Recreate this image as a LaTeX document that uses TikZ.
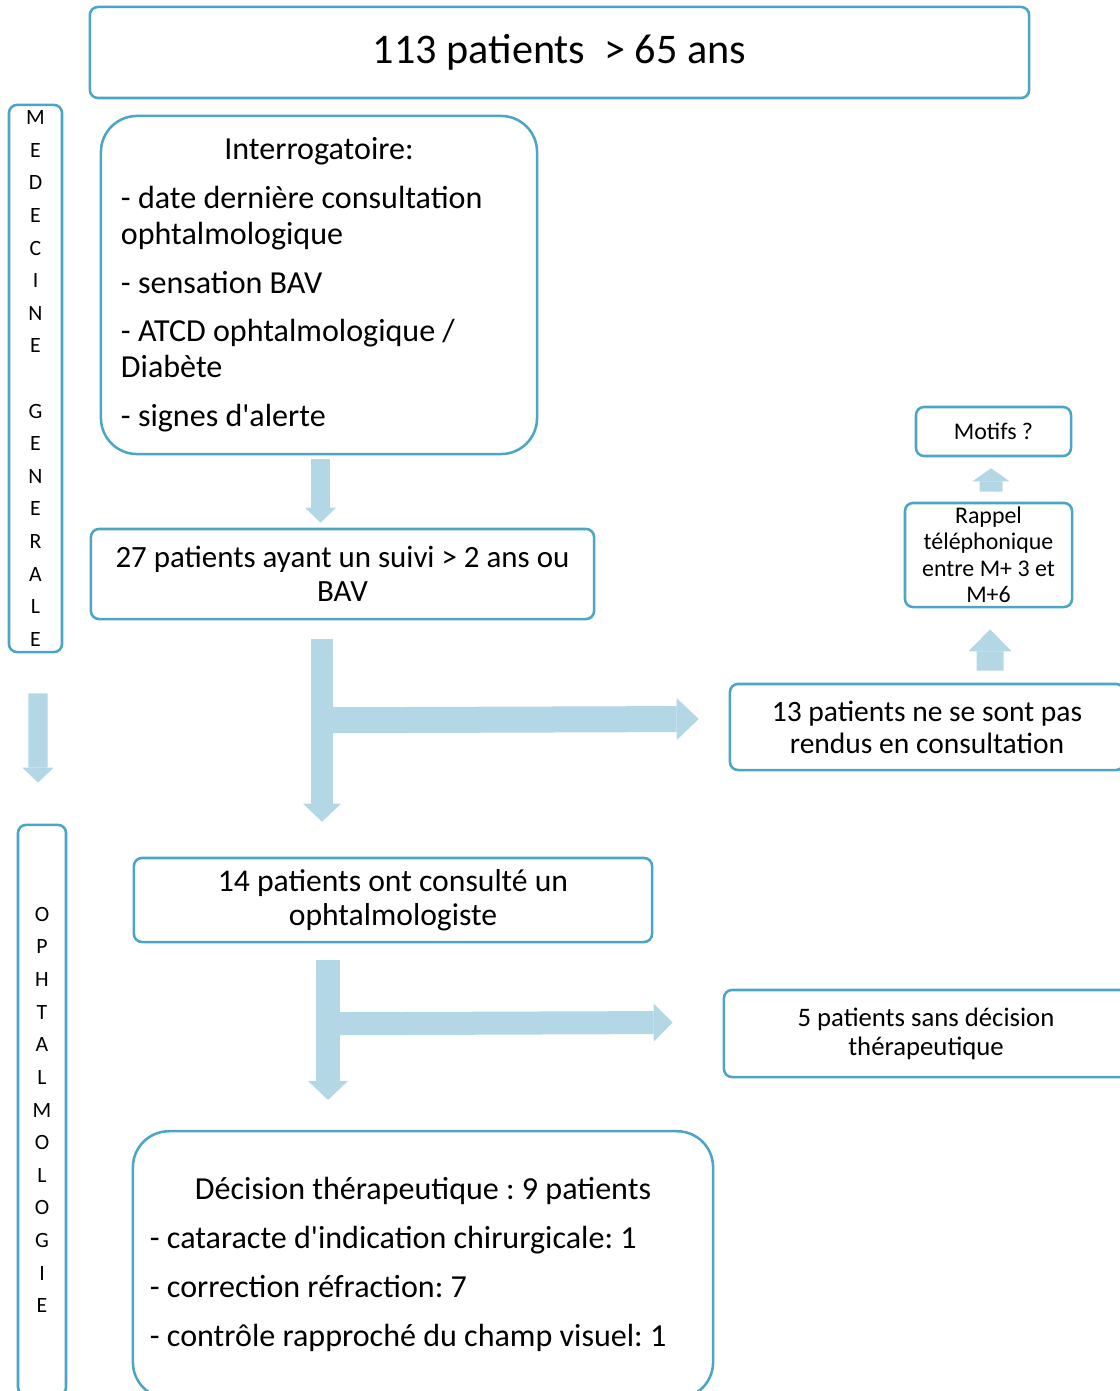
\documentclass[tikz,border=0pt]{standalone}
\usepackage{fontspec}
\setmainfont{Carlito}
\usepackage{tikz}
\usetikzlibrary{arrows.meta,calc}
\setlength{\parindent}{0pt}
\frenchspacing
\definecolor{cadre}{HTML}{4BA5C4}
\definecolor{bleuclair}{HTML}{B4D7E5}
\tikzset{
  boite/.style={draw=cadre, line width=1.8pt, rounded corners=0.2cm, align=center, inner sep=0pt},
  grandeboite/.style={boite, rounded corners=0.9cm},
  grossefleche/.style n args={3}{draw=bleuclair, line width=#1, -{Triangle[width=#2, length=#3, line width=0pt]}}
}

\begin{document}
\begin{tikzpicture}[x=0.025cm, y=-0.025cm]
   \useasboundingbox (0,0) rectangle (1119,1391);
   \node[boite, minimum width=23.475cm, minimum height=2.275cm, font=\fontsize{30}{36}\selectfont] (total) at (559.5,52.5) {113 patients~ > 65 ans};
   \node[boite, minimum width=1.325cm, minimum height=13.675cm, font=\fontsize{15.5}{23.2}\selectfont] (medgen) at (35.5,378.5) {M\\E\\D\\E\\C\\I\\N\\E\\~\\G\\E\\N\\E\\R\\A\\L\\E};
   \node[boite, minimum width=1.2cm, minimum height=14.25cm, font=\fontsize{15.5}{23.2}\selectfont] (ophtalmo) at (42,1110) {O\\P\\H\\T\\A\\L\\M\\O\\L\\O\\G\\I\\E};
   \node[grandeboite, align=flush left, text width=9.9cm, inner xsep=0.5cm, minimum width=10.9cm, minimum height=8.45cm, font=\fontsize{22.8}{25.6}\selectfont\setlength{\parskip}{9pt}] (interro) at (319,285) {{\centering Interrogatoire:\par}
   - date dernière consultation\\ophtalmologique\par
   - sensation BAV\par
   - ATCD ophtalmologique /\\Diabète\par
   - signes d\textquotesingle alerte};
   \node[boite, minimum width=12.575cm, minimum height=2.25cm, font=\fontsize{22}{24.2}\selectfont] (q27) at (342.5,574) {27 patients ayant un suivi > 2 ans ou\\BAV};
   \node[boite, minimum width=9.85cm, minimum height=2.15cm, font=\fontsize{21}{22.8}\selectfont] (q13) at (927,727) {13 patients ne se sont pas\\rendus en consultation};
   \node[boite, minimum width=4.175cm, minimum height=2.6cm, font=\fontsize{17}{18.8}\selectfont] (rappel) at (988.5,555) {Rappel\\téléphonique\\entre M+ 3 et\\M+6};
   \node[boite, minimum width=3.875cm, minimum height=1.225cm, font=\fontsize{17}{18.8}\selectfont] (motifs) at (993.5,431.5) {Motifs ?};
   \node[boite, minimum width=12.95cm, minimum height=2.1cm, font=\fontsize{22.5}{24.2}\selectfont] (q14) at (393,900) {14 patients ont consulté un\\ophtalmologiste};
   \node[boite, minimum width=10.1cm, minimum height=2.175cm, font=\fontsize{19}{20.6}\selectfont] (q5) at (926,1033.5) {5 patients sans décision\\thérapeutique};
   \node[grandeboite, align=flush left, text width=13.65cm, inner xsep=0.425cm, minimum width=14.5cm, minimum height=6.675cm, font=\fontsize{22.8}{34.9}\selectfont] (decis) at (423,1264.75) {{\centering Décision thérapeutique : 9 patients\par}
   - cataracte d\textquotesingle indication chirurgicale: 1\par
   - correction réfraction: 7\par
   - contrôle rapproché du champ visuel: 1};
   \draw[grossefleche={0.475cm}{0.775cm}{0.375cm}] ($(medgen.south)+(2.5,40)$) -- ($(ophtalmo.north)+(-4,-41)$);
   \draw[grossefleche={0.475cm}{0.775cm}{0.375cm}] ($(interro.south)+(1.5,4)$) -- ($(q27.north)+(-22,-5)$);
   \draw[grossefleche={0.5625cm}{0.95cm}{0.45cm}] ($(q27.south)+(-20.5,19)$) -- ($(q14.north)+(-71,-35)$);
   \coordinate (b1) at ($(q27.south)+(-20.5,100)$);
   \draw[grossefleche={0.65cm}{1.05cm}{0.55cm}] (b1) -- ($(q13.west)+(-30,-8)$);
   \draw[grossefleche={0.675cm}{1.075cm}{0.55cm}] ($(q13.north)+(63,-12)$) -- ($(rappel.south)+(1.5,21)$);
   \draw[grossefleche={0.575cm}{0.925cm}{0.325cm}] ($(rappel.north)+(2.5,-10)$) -- ($(motifs.south)+(-2.5,11)$);
   \draw[grossefleche={0.6cm}{1.0cm}{0.475cm}] ($(q14.south)+(-65,17)$) -- ($(decis.north)+(-95,-30)$);
   \coordinate (b2) at ($(q14.south)+(-65,80.5)$);
   \draw[grossefleche={0.575cm}{0.95cm}{0.475cm}] (b2) -- ($(q5.west)+(-50,-11)$);
\end{tikzpicture}
\end{document}
